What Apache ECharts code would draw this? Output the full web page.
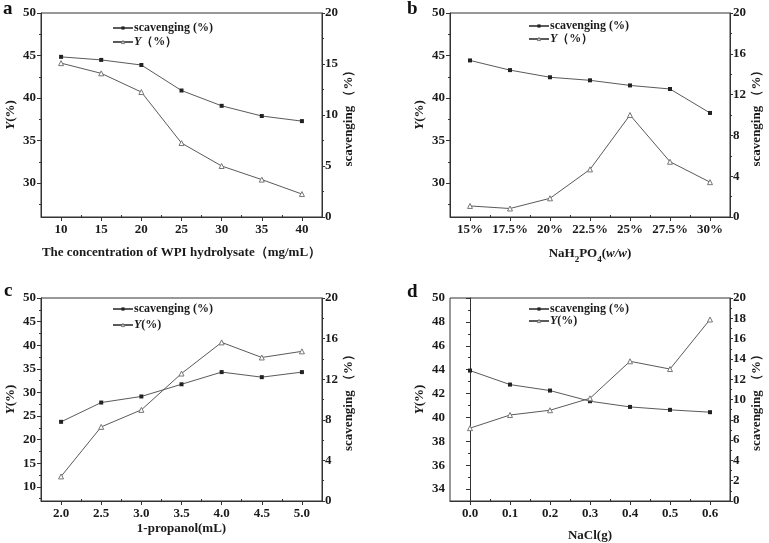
<!DOCTYPE html>
<html><head><meta charset="utf-8">
<script src="https://cdn.jsdelivr.net/npm/echarts@6/dist/echarts.min.js"></script>
<style>html,body{margin:0;padding:0;background:#fff}#c{width:769px;height:543px}</style>
</head><body><div id="c"></div>
<script>
// ---- data ----
const xA = [10, 15, 20, 25, 30, 35, 40];
const yieldA = [44.1, 42.9, 40.7, 34.7, 32.0, 30.4, 28.7];
const scavA = [15.7, 15.4, 14.9, 12.4, 10.9, 9.9, 9.4];

const xB = [15, 17.5, 20, 22.5, 25, 27.5, 30];
const yieldB = [27.3, 27.0, 28.2, 31.6, 38.0, 32.5, 30.1];
const scavB = [15.35, 14.4, 13.7, 13.4, 12.9, 12.55, 10.2];

const xC = [2.0, 2.5, 3.0, 3.5, 4.0, 4.5, 5.0];
const yieldC = [12.2, 22.7, 26.3, 34.0, 40.6, 37.4, 38.7];
const scavC = [7.8, 9.7, 10.3, 11.5, 12.7, 12.2, 12.7];

const xD = [0.0, 0.1, 0.2, 0.3, 0.4, 0.5, 0.6];
const yieldD = [39.1, 40.2, 40.6, 41.6, 44.7, 44.05, 48.2];
const scavD = [12.85, 11.47, 10.88, 9.83, 9.27, 8.98, 8.75];

const leftTicksA = [30, 35, 40, 45, 50];
const leftTicksC = [10, 15, 20, 25, 30, 35, 40, 45, 50];
const leftTicksD = [34, 36, 38, 40, 42, 44, 46, 48, 50];
const rightTicksA = [0, 5, 10, 15, 20];
const rightTicks4 = [0, 4, 8, 12, 16, 20];
const rightTicksD = [0, 2, 4, 6, 8, 10, 12, 14, 16, 18, 20];

// ---- helpers ----
const FONT = "'Liberation Serif','Times New Roman',serif";
const TXT = '#1a1a1a';
const AX = '#333';
const LINE = '#5a5a5a';
function mids(arr) { const r = []; for (let i = 0; i < arr.length - 1; i++) r.push((arr[i] + arr[i + 1]) / 2); return r; }
function pairs(xs, ys) { return xs.map((x, i) => [x, ys[i]]); }

const option = {
  backgroundColor: '#fff',
  animation: false,
  grid: [], xAxis: [], yAxis: [], series: [], legend: [], graphic: []
};
const richBase = { fontFamily: FONT, fontWeight: 'bold', fontSize: 13, color: TXT };

function addPanel(p) {
  const gi = option.grid.length;
  option.grid.push({ left: p.left, top: p.top, width: p.width, height: p.height, show: true,
    borderColor: AX, borderWidth: 1, backgroundColor: 'transparent' });
  const xi = option.xAxis.length;
  option.xAxis.push({
    type: 'value', gridIndex: gi, min: p.xmin, max: p.xmax,
    axisLine: { show: true, lineStyle: { color: AX, width: 1 } },
    axisTick: { show: true, inside: false, length: 4, customValues: p.xs, lineStyle: { color: AX } },
    axisLabel: { customValues: p.xs, formatter: p.xfmt, margin: 6, fontFamily: FONT, fontWeight: 'bold', fontSize: 13, color: TXT },
    splitLine: { show: false },
    name: p.xname, nameLocation: 'middle', nameGap: p.xnameGap,
    nameTextStyle: Object.assign({}, richBase, { rich: p.xrich || {} })
  });
  option.xAxis.push({
    type: 'value', gridIndex: gi, min: p.xmin, max: p.xmax,
    axisLine: { show: false }, axisLabel: { show: false }, splitLine: { show: false },
    axisTick: { show: true, length: 2, customValues: mids(p.xs), lineStyle: { color: AX } }
  });
  const yi = option.yAxis.length;
  option.yAxis.push({
    type: 'value', gridIndex: gi, position: 'left', min: p.lmin, max: p.lmax,
    axisLine: { show: true, lineStyle: { color: AX, width: 1 } },
    axisTick: { show: true, length: 4, customValues: p.lticks, lineStyle: { color: AX } },
    axisLabel: { customValues: p.lticks, margin: 5, fontFamily: FONT, fontWeight: 'bold', fontSize: 13, color: TXT },
    splitLine: { show: false },
    name: '{i|Y}(%)', nameLocation: 'middle', nameGap: 24, nameRotate: 90,
    nameTextStyle: Object.assign({}, richBase, { rich: { i: Object.assign({}, richBase, { fontStyle: 'italic' }) } })
  });
  const lminors = mids(p.lticks); if (p.lticks[0] - (p.lticks[1] - p.lticks[0]) / 2 > p.lmin) lminors.unshift(p.lticks[0] - (p.lticks[1] - p.lticks[0]) / 2);
  option.yAxis.push({
    type: 'value', gridIndex: gi, position: 'left', min: p.lmin, max: p.lmax,
    axisLine: { show: false }, axisLabel: { show: false }, splitLine: { show: false },
    axisTick: { show: true, length: 2, customValues: lminors, lineStyle: { color: AX } }
  });
  option.yAxis.push({
    type: 'value', gridIndex: gi, position: 'right', min: 0, max: 20,
    axisLine: { show: true, lineStyle: { color: AX, width: 1 } },
    axisTick: { show: true, length: 3, customValues: p.rticks, lineStyle: { color: AX } },
    axisLabel: { customValues: p.rticks, margin: 3, fontFamily: FONT, fontWeight: 'bold', fontSize: 13, color: TXT },
    splitLine: { show: false },
    name: 'scavenging （%）', nameLocation: 'middle', nameGap: 16, nameRotate: 90,
    nameTextStyle: Object.assign({}, richBase)
  });
  option.yAxis.push({
    type: 'value', gridIndex: gi, position: 'right', min: 0, max: 20,
    axisLine: { show: false }, axisLabel: { show: false }, splitLine: { show: false },
    axisTick: { show: true, length: 2, customValues: mids(p.rticks), lineStyle: { color: AX } }
  });
  const sName = 's' + p.id, yName = 'y' + p.id;
  option.series.push({
    name: sName, type: 'line', xAxisIndex: xi, yAxisIndex: yi + 2, data: pairs(p.xs, p.scav),
    symbol: 'rect', symbolSize: 4, lineStyle: { color: LINE, width: 1 },
    itemStyle: { color: '#222', borderWidth: 0 }, z: 3
  });
  option.series.push({
    name: yName, type: 'line', xAxisIndex: xi, yAxisIndex: yi, data: pairs(p.xs, p.yld),
    symbol: 'triangle', symbolSize: 5, showAllSymbol: true, lineStyle: { color: LINE, width: 1 },
    itemStyle: { color: '#fff', borderColor: '#777', borderWidth: 1 }, z: 3
  });
  option.legend.push({
    data: [
      { name: sName, itemStyle: { color: '#222', borderWidth: 0 } },
      { name: yName, itemStyle: { color: '#fff', borderColor: '#777', borderWidth: 1 } }
    ],
    orient: 'vertical', left: p.legX, top: p.legY, itemWidth: 20, itemHeight: 4,
    itemGap: p.legGap, selectedMode: false, padding: 0,
    formatter: function (n) { return n[0] === 's' ? 'scavenging (%)' : p.yLegend; },
    textStyle: { fontFamily: FONT, fontWeight: 'bold', fontSize: 12, lineHeight: 10, color: TXT, padding: [0, 0, 0, -4],
      rich: { i: { fontFamily: FONT, fontWeight: 'bold', fontSize: 12, lineHeight: 10, color: TXT, fontStyle: 'italic' },
              n: { fontFamily: FONT, fontWeight: 'bold', fontSize: 12, lineHeight: 10, color: TXT } } }
  });
  option.graphic.push({ type: 'text', left: p.letX, top: p.letY,
    style: { text: p.letter, fontFamily: FONT, fontWeight: 'bold', fontSize: 19, fill: '#111' } });
}

addPanel({ id: 'a', left: 41, top: 13, width: 281, height: 204, xmin: 7.5, xmax: 42.5, xs: xA,
  xfmt: v => String(v), xname: 'The concentration of WPI hydrolysate（mg/mL）', xnameGap: 29,
  lmin: 26, lmax: 50, lticks: leftTicksA, rticks: rightTicksA, scav: scavA, yld: yieldA,
  legX: 112, legY: 22, legGap: 2, yLegend: '{i|Y}{n|（%）}', letter: 'a', letX: 3, letY: 0 });
addPanel({ id: 'b', left: 450, top: 13, width: 280, height: 204, xmin: 13.75, xmax: 31.25, xs: xB,
  xfmt: v => v + '%', xname: 'NaH{s|2}PO{s|4}({i|w/w})', xnameGap: 27,
  xrich: { s: Object.assign({}, richBase, { fontSize: 9, lineHeight: 9, verticalAlign: 'bottom' }),
           i: Object.assign({}, richBase, { fontStyle: 'italic', lineHeight: 20 }) },
  lmin: 26, lmax: 50, lticks: leftTicksA, rticks: rightTicks4, scav: scavB, yld: yieldB,
  legX: 528, legY: 20, legGap: 1, yLegend: '{i|Y}{n|（%）}', letter: 'b', letX: 407, letY: 0 });
addPanel({ id: 'c', left: 41, top: 298, width: 281, height: 203, xmin: 1.75, xmax: 5.25, xs: xC,
  xfmt: v => v.toFixed(1), xname: '1-propanol(mL)', xnameGap: 21,
  lmin: 7, lmax: 50, lticks: leftTicksC, rticks: rightTicks4, scav: scavC, yld: yieldC,
  legX: 112, legY: 303, legGap: 4, yLegend: '{i|Y}{n|(%)}', letter: 'c', letX: 4, letY: 282 });
addPanel({ id: 'd', left: 450, top: 298, width: 280, height: 203, xmin: -0.05, xmax: 0.65, xs: xD,
  xfmt: v => v.toFixed(1), xname: 'NaCl(g)', xnameGap: 28,
  lmin: 33, lmax: 50, lticks: leftTicksD, rticks: rightTicksD, scav: scavD, yld: yieldD,
  legX: 528, legY: 303, legGap: 0, yLegend: '{i|Y}{n|(%)}', letter: 'd', letX: 407, letY: 283 });

const chart = echarts.init(document.getElementById('c'), null, { renderer: 'canvas' });
chart.setOption(option);
</script></body></html>
